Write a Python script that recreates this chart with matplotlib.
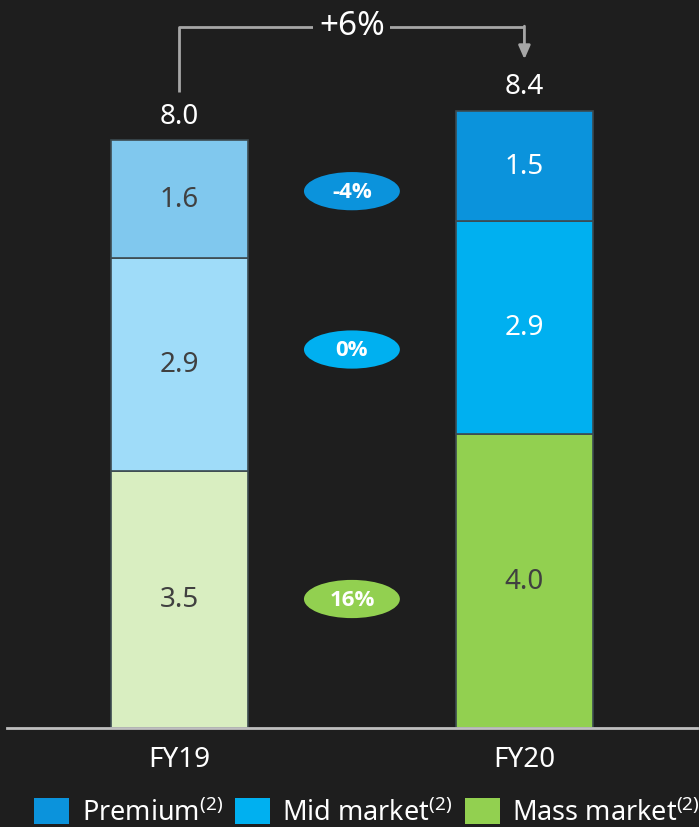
import matplotlib
matplotlib.use('Agg')
import matplotlib.pyplot as plt
from matplotlib.patches import Ellipse, Patch

plt.rcParams['font.family'] = ['Noto Sans', 'DejaVu Sans']
plt.rcParams['mathtext.fontset'] = 'custom'
plt.rcParams['mathtext.rm'] = 'Noto Sans'
plt.rcParams['mathtext.it'] = 'Noto Sans'

years = ['FY19', 'FY20']
mass = [3.5, 4.0]
mid = [2.9, 2.9]
premium = [1.6, 1.5]
totals = [8.0, 8.4]
growth = ['16%', '0%', '-4%']
total_growth = '+6%'
segments = ['Premium', 'Mid market', 'Mass market']

bg = '#1e1e1e'
dark_cols = {'Premium': '#0b93dc', 'Mid market': '#00b0f0', 'Mass market': '#92d050'}
light_cols = {'Premium': '#80c8ee', 'Mid market': '#9fdcf9', 'Mass market': '#d9eec1'}

fig = plt.figure(figsize=(6.99, 8.28), dpi=100, facecolor=bg)
ax = fig.add_axes([0, 0.1196, 1, 0.8804])
ax.set_facecolor(bg)
ax.set_xlim(-0.520, 1.506)
ax.set_ylim(0, 9.92)
for s in ax.spines.values():
    s.set_visible(False)
ax.set_yticks([])

x = [0, 1]
w = 0.397
stack = [('Mass market', mass), ('Mid market', mid), ('Premium', premium)]
bottoms = [0.0, 0.0]
centers = {}
for name, vals in stack:
    cols = [light_cols[name], dark_cols[name]]
    ax.bar(x, vals, w, bottom=bottoms, color=cols, edgecolor='#3c4a50', linewidth=1.2, zorder=2)
    centers[name] = []
    for i, v in enumerate(vals):
        c = bottoms[i] + v / 2
        centers[name].append(c)
        tc = 'white' if (i == 1 and name != 'Mass market') else '#404040'
        ax.text(x[i], c, f'{v:.1f}', ha='center', va='center', fontsize=20, color=tc, zorder=3)
    bottoms = [b + v for b, v in zip(bottoms, vals)]

for i, t in enumerate(totals):
    ax.text(x[i], t + 0.33, f'{t:.1f}', ha='center', va='center', fontsize=20, color='white')

# baseline
ax.axhline(0, xmin=0.01, xmax=0.997, color='#bfbfbf', lw=2, zorder=4, clip_on=False)

# growth bubbles between the bars, sitting between the two segment centres
nudge = {'Mass market': -0.12, 'Mid market': -0.05, 'Premium': -0.12}
for (name, _), g in zip(stack, growth):
    yc = sum(centers[name]) / 2 + nudge[name]
    ax.add_patch(Ellipse((0.5, yc), 0.278, 0.52, facecolor=dark_cols[name], edgecolor='none', zorder=3))
    ax.text(0.5, yc, g, ha='center', va='center', fontsize=16, fontweight='bold', color='white', zorder=4,
            family=['Open Sans', 'DejaVu Sans'])

# total growth bracket
top = 9.54
ax.plot([x[0], x[0], x[1]], [totals[0] + 0.65, top, top], color='#a6a6a6', lw=2, solid_capstyle='butt', zorder=2)
ax.annotate('', xy=(x[1], totals[1] + 0.7), xytext=(x[1], top + 0.01),
            arrowprops=dict(arrowstyle='-|>,head_width=0.35,head_length=0.8', color='#a6a6a6', lw=2,
                            shrinkA=0, shrinkB=0))
ax.text(0.5, top + 0.02, total_growth, ha='center', va='center', fontsize=24, color='white', zorder=3,
        bbox=dict(facecolor=bg, edgecolor='none', pad=4))

ax.set_xticks(x)
ax.set_xticklabels(years, fontsize=20, color='white')
ax.tick_params(axis='x', length=0, pad=12)

handles = [Patch(facecolor=dark_cols[s]) for s in segments]
labels = [s + '$^{(2)}$' for s in segments]
fig.legend(handles, labels, loc='lower center', bbox_to_anchor=(0.525, -0.013), ncol=3, frameon=False,
           fontsize=19.5, labelcolor='white', handlelength=1.3, handleheight=1.1, handletextpad=0.45,
           columnspacing=0.45, borderaxespad=0)

fig.savefig('out.png', dpi=100, facecolor=bg)
